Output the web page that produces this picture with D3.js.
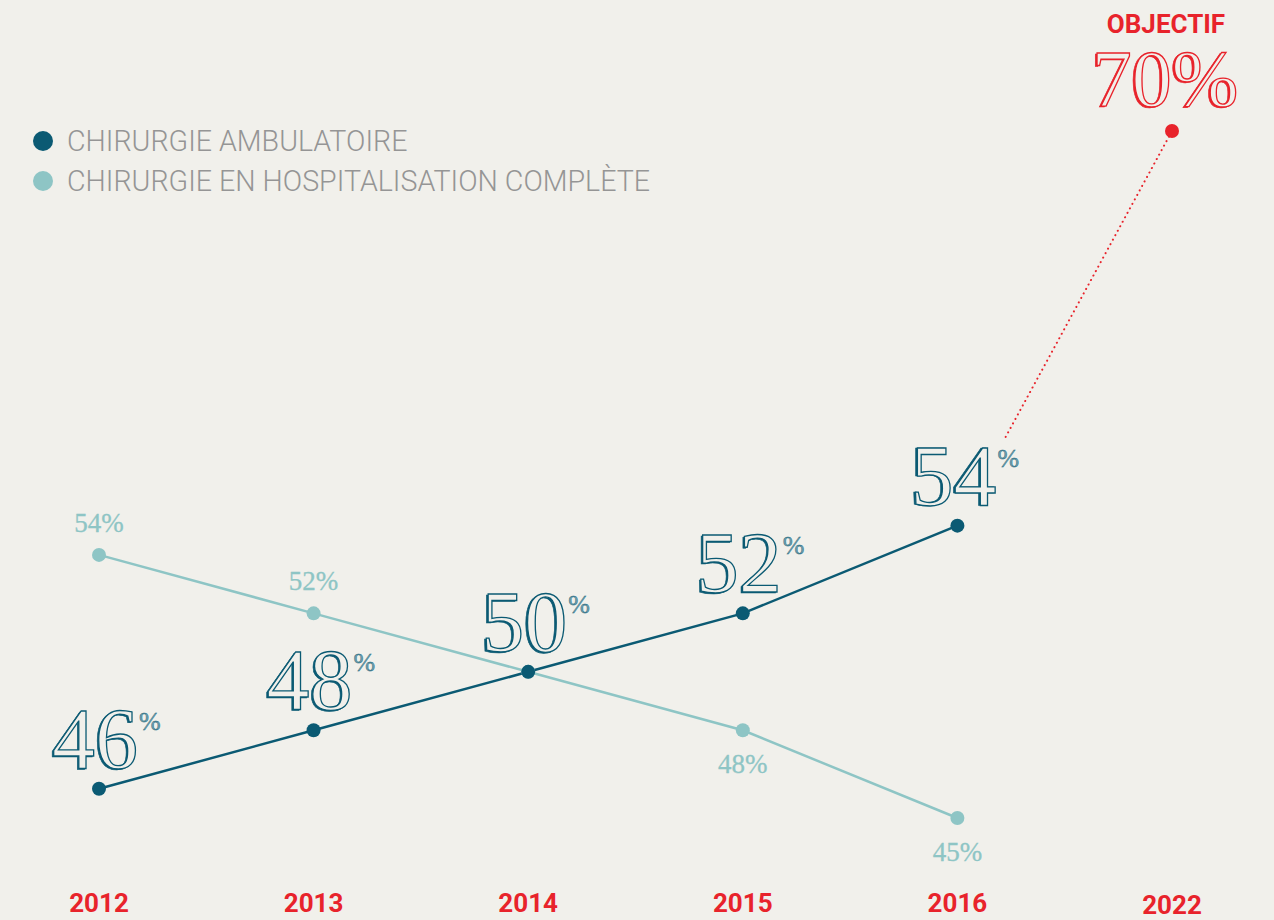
<!DOCTYPE html>
<meta charset="utf-8">
<script src="https://d3js.org/d3.v7.min.js"></script>
<style>
  body { margin: 0; background: #f1f0eb; }
</style>
<svg id="chart" width="1274" height="920"></svg>

<script>

// data
var years = ["2012", "2013", "2014", "2015", "2016"];
var ambulatoire = [46, 48, 50, 52, 55];
var ambulatoireLabels = ["46", "48", "50", "52", "54"];
var hospitalisation = [54, 52, 50, 48, 45];
var objectifYear = "2022";
var objectifValue = 70;
var seriesNames = ["CHIRURGIE AMBULATOIRE", "CHIRURGIE EN HOSPITALISATION COMPLÈTE"];

var dark = "#0b5a73", light = "#8ec5c5", red = "#e8232b", grey = "#959595", bg = "#f1f0eb";
var serif = "'Liberation Serif', 'DejaVu Serif', serif";

var svg = d3.select("#chart");

svg.append("rect").attr("width", 1274).attr("height", 920).attr("fill", bg);

// scales: x by category, y clamped so the objective sits at the top
var x = d3.scalePoint()
    .domain(years.concat([objectifYear]))
    .range([99, 1172]);

var y = d3.scaleLinear()
    .domain([45, 68.5])
    .range([818, 131])
    .clamp(true);

var ambData = years.map(function(d, i){ return {year: d, v: ambulatoire[i], label: ambulatoireLabels[i]}; });
var hospData = years.map(function(d, i){ return {year: d, v: hospitalisation[i], other: ambulatoire[i]}; });

var line = d3.line()
    .x(function(d){ return x(d.year); })
    .y(function(d){ return y(d.v); });

// engraved-style text: a shifted filled copy as shadow, an outlined copy on top
function engraved(sel, color, build) {
  var shadow = sel.append("text").attr("transform", "translate(-1.6,0.8)")
      .style("fill", color).style("stroke", color).style("stroke-width", 0.6);
  build(shadow);
  var top = sel.append("text")
      .style("fill", bg).style("stroke", color).style("stroke-width", 1.3);
  build(top);
}

// objective dotted line, starting a bit above the 2016 label
var last = ambData[ambData.length - 1];
var x0 = x(last.year), y0 = y(last.v), x1 = x(objectifYear), y1 = y(objectifValue);
var t = 0.225;
svg.append("line")
    .attr("x1", x0 + (x1 - x0) * t)
    .attr("y1", y0 + (y1 - y0) * t)
    .attr("x2", x1)
    .attr("y2", y1)
    .style("stroke", red)
    .style("stroke-width", 2)
    .style("stroke-linecap", "round")
    .style("stroke-dasharray", "0.1,5");

// light line (hospitalisation) first, dark on top
svg.append("path")
    .datum(hospData)
    .attr("d", line)
    .style("fill", "none")
    .style("stroke", light)
    .style("stroke-width", 2.5);

svg.append("path")
    .datum(ambData)
    .attr("d", line)
    .style("fill", "none")
    .style("stroke", dark)
    .style("stroke-width", 2.5);

svg.selectAll(".hdot")
  .data(hospData)
  .enter().append("circle")
    .attr("cx", function(d){ return x(d.year); })
    .attr("cy", function(d){ return y(d.v); })
    .attr("r", 7)
    .attr("fill", light);

svg.selectAll(".adot")
  .data(ambData)
  .enter().append("circle")
    .attr("cx", function(d){ return x(d.year); })
    .attr("cy", function(d){ return y(d.v); })
    .attr("r", 7)
    .attr("fill", dark);

// big labels for ambulatoire, with a lighter small "%"
var aLab = svg.selectAll(".alab")
  .data(ambData)
  .enter().append("g")
    .attr("transform", function(d){ return "translate(" + (x(d.year) - 4) + "," + (y(d.v) - 21) + ")"; });

aLab.each(function(d){
  engraved(d3.select(this), dark, function(txt){
    txt.attr("text-anchor", "middle")
      .style("font-family", serif)
      .style("font-size", "86px")
      .text(d.label);
  });
});

aLab.append("text")
    .attr("x", 44)
    .attr("y", -38)
    .style("font-family", serif)
    .style("font-size", "26px")
    .style("fill", "#6f9fae")
    .style("stroke", dark)
    .style("stroke-width", 0.4)
    .text("%");

// small labels for hospitalisation (above when higher, below when lower, none when equal)
svg.selectAll(".hlab")
  .data(hospData.filter(function(d){ return d.v !== d.other; }))
  .enter().append("text")
    .attr("x", function(d){ return x(d.year); })
    .attr("y", function(d){ return d.v > d.other ? y(d.v) - 23 : y(d.v) + 43; })
    .attr("text-anchor", "middle")
    .style("font-family", serif)
    .style("font-size", "27px")
    .style("fill", light)
    .style("stroke", light)
    .style("stroke-width", 0.3)
    .text(function(d){ return d.v + "%"; });

// objective
svg.append("circle")
    .attr("cx", x1)
    .attr("cy", y1)
    .attr("r", 7)
    .attr("fill", red);

engraved(svg.append("g").attr("transform", "translate(" + (x1 - 7) + ",106)"), red, function(txt){
  txt.attr("text-anchor", "middle")
    .style("font-family", serif)
    .style("font-size", "80px")
    .text(objectifValue + "%");
});

svg.append("text")
    .attr("x", x1 - 6)
    .attr("y", 33)
    .attr("text-anchor", "middle")
    .style("font-family", "Roboto, sans-serif")
    .style("font-weight", "bold")
    .style("font-size", "26px")
    .style("fill", red)
    .text("OBJECTIF");

// year labels
svg.selectAll(".year")
  .data(x.domain())
  .enter().append("text")
    .attr("x", function(d){ return x(d); })
    .attr("y", function(d){ return d === objectifYear ? 914 : 912; })
    .attr("text-anchor", "middle")
    .style("font-family", "Roboto, sans-serif")
    .style("font-weight", "bold")
    .style("font-size", "26px")
    .style("fill", red)
    .text(function(d){ return d; });

// legend
var legend = svg.selectAll(".legend")
  .data(seriesNames)
  .enter().append("g")
    .attr("transform", function(d, i){ return "translate(43," + (141 + i * 40) + ")"; });
legend.append("circle")
    .attr("r", 10)
    .attr("fill", function(d, i){ return i === 0 ? dark : light; });
legend.append("text")
    .attr("x", 24)
    .attr("y", 10)
    .style("font-family", "Roboto, sans-serif")
    .style("font-weight", 300)
    .style("font-size", "28.6px")
    .style("fill", grey)
    .text(function(d){ return d; });

</script>
